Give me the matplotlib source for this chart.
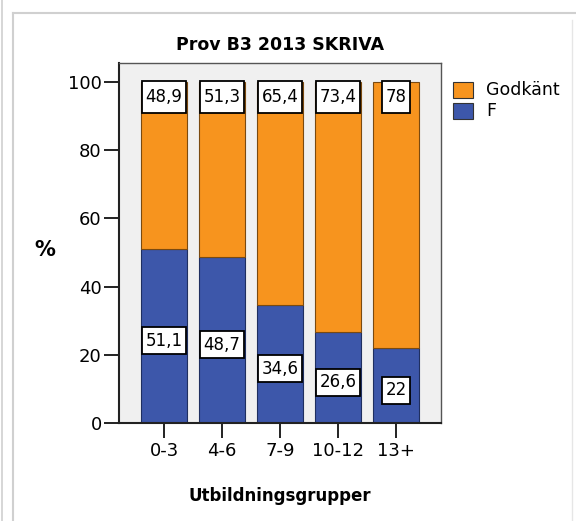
import matplotlib
matplotlib.use("Agg")
import matplotlib.pyplot as plt
from matplotlib.patches import Rectangle
from matplotlib.lines import Line2D
from matplotlib.path import Path

plt.rcParams['font.family'] = ['DejaVu Sans']

categories = ["0-3", "4-6", "7-9", "10-12", "13+"]
f_vals = [51.1, 48.7, 34.6, 26.6, 22]
godkant_vals = [48.9, 51.3, 65.4, 73.4, 78]
f_labels = ["51,1", "48,7", "34,6", "26,6", "22"]
g_labels = ["48,9", "51,3", "65,4", "73,4", "78"]
yticks = [0, 20, 40, 60, 80, 100]

ORANGE = "#F7941E"
BLUE = "#3D57AA"

W, H = 576, 521
fig = plt.figure(figsize=(W / 100, H / 100), dpi=100)

# outer frame lines
fig.add_artist(Line2D([1.5 / W, 1.5 / W], [0, 1], color="#d0d0d0", lw=1.2))
fig.add_artist(Line2D([12.5 / W, 12.5 / W], [0, 1 - 13 / H], color="#d0d0d0", lw=1.5))
fig.add_artist(Line2D([12.5 / W, 1], [1 - 13 / H, 1 - 13 / H], color="#d0d0d0", lw=1.5))
fig.add_artist(Line2D([572 / W, 572 / W], [0, 1 - 20 / H], color="#e6e6e6", lw=1.0))

ax_l, ax_r, ax_t, ax_b = 119, 441, 63, 423
ax = fig.add_axes([ax_l / W, 1 - ax_b / H, (ax_r - ax_l) / W, (ax_b - ax_t) / H])
ax.set_facecolor("#F0F0F0")

x = list(range(len(categories)))
bw = 0.79
ax.bar(x, f_vals, width=bw, color=BLUE, edgecolor="#1f2f60", linewidth=0.8, zorder=2)
ax.bar(x, godkant_vals, width=bw, bottom=f_vals, color=ORANGE, edgecolor="#7a4a10",
       linewidth=0.8, zorder=2)


def make_box(fx, fy):
    def style(x0, y0, width, height, mutation_size):
        px = fx * mutation_size
        py = fy * mutation_size
        x0, y0 = x0 - px, y0 - py
        x1, y1 = x0 + width + 2 * px, y0 + height + 2 * py
        return Path([(x0, y0), (x1, y0), (x1, y1), (x0, y1), (x0, y0)], closed=True)
    return style


top_box = dict(boxstyle=make_box(0.2, 0.42), facecolor="white", edgecolor="black", linewidth=1.3)
bot_box = dict(boxstyle=make_box(0.2, 0.28), facecolor="white", edgecolor="black", linewidth=1.3)
for i in x:
    ax.text(i, 95.6, g_labels[i], ha="center", va="center", fontsize=12, bbox=top_box, zorder=4)
    ax.text(i, f_vals[i] / 2 - 1.4, f_labels[i], ha="center", va="center", fontsize=12,
            bbox=bot_box, zorder=4)

ax.set_xlim(-0.776, 4.776)
ax.set_ylim(0, 105.6)
ax.set_yticks(yticks)
ax.set_yticklabels([str(v) for v in yticks], fontsize=13)
ax.set_xticks(x)
ax.set_xticklabels(categories, fontsize=13)
ax.tick_params(axis="both", length=10.5, width=1.4, color="#222222")
ax.tick_params(axis="x", pad=3)
ax.tick_params(axis="y", pad=2)

for s in ["left", "bottom"]:
    ax.spines[s].set_linewidth(1.5)
    ax.spines[s].set_color("#222222")
for s in ["top", "right"]:
    ax.spines[s].set_linewidth(1.0)
    ax.spines[s].set_color("#555555")

fig.text(280 / W, 1 - 45 / H, "Prov B3 2013 SKRIVA", ha="center", va="center",
         fontsize=12.5, fontweight="bold")
fig.text(280 / W, 1 - 496 / H, "Utbildningsgrupper", ha="center", va="center",
         fontsize=12, fontweight="bold")
fig.text(45 / W, 1 - 250 / H, "%", ha="center", va="center", fontsize=15, fontweight="bold")

# legend
leg = [("Godkänt", ORANGE, 90), ("F", BLUE, 111)]
for name, col, yc in leg:
    fig.add_artist(Rectangle((453 / W, 1 - (yc + 8) / H), 20 / W, 16 / H, facecolor=col,
                             edgecolor="#333333", linewidth=0.8, transform=fig.transFigure))
    fig.text(486 / W, 1 - yc / H, name, ha="left", va="center", fontsize=12.5)

fig.savefig("out.png", dpi=100)
